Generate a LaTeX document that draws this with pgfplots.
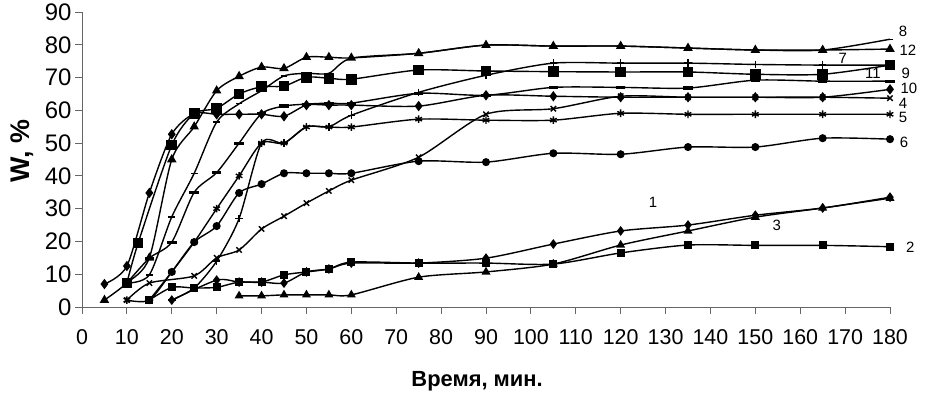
\documentclass[border=0pt]{standalone}
\usepackage{fontspec}
\setmainfont{Liberation Sans}
\usepackage{graphicx}
\usepackage{pgfplots}
\pgfplotsset{compat=1.18}
\begin{document}
\begin{tikzpicture}
\useasboundingbox (0,0) rectangle (951bp,399bp);
\begin{axis}[
 at={(82bp,92bp)}, anchor=south west,
 scale only axis, width=808bp, height=295bp,
 xmin=0, xmax=180, ymin=0, ymax=90,
 axis lines=left, axis line style={-, draw=black!60, line width=0.8bp},
 xtick={0,10,...,180}, ytick={0,10,...,90},
 tick align=outside, major tick length=7bp,
 tick style={draw=black!60, line width=0.8bp},
 /pgf/number format/assume math mode=true,
 xticklabel style={font=\fontsize{21.5}{21.5}\selectfont, yshift=-12bp},
 yticklabel style={font=\fontsize{24}{24}\selectfont},
 xlabel={Время, мин.}, ylabel={W, \%},
 xlabel style={font=\fontsize{22}{22}\selectfont\bfseries, at={(axis description cs:0.489,-0.25)}, anchor=center},
 ylabel style={font=\fontsize{27}{27}\selectfont\bfseries, at={(axis description cs:-0.0743,0.529)}, anchor=center},
 ser/.style={black, solid, line width=1.4bp, smooth, tension=0.45, mark size=3.3bp, mark options={solid, fill=black, draw=black}},
 clip=false,
]
% 1
\addplot[ser, mark=diamond*, mark size=3.8bp] coordinates {(20,2.1)(30,8.2)(35,7.6)(40,7.6)(45,7.3)(50,10.7)(55,11.6)(60,13.4)(75,13.4)(90,14.9)(105,19.2)(120,23.2)(135,25)(150,28)(165,30.2)(180,33.5)};
% 2
\addplot[ser, mark=square*] coordinates {(15,2.1)(20,6)(25,5.8)(30,6)(35,7.6)(40,7.6)(45,9.8)(50,10.7)(55,11.6)(60,13.7)(75,13.4)(90,13.4)(105,13.1)(120,16.5)(135,18.9)(150,18.8)(165,18.8)(180,18.4)};
% 3
\addplot[ser, mark=triangle*, mark size=3.8bp] coordinates {(35,3.4)(40,3.4)(45,3.7)(50,3.7)(55,3.7)(60,3.7)(75,9.1)(90,10.7)(105,13.1)(120,18.9)(135,23.2)(150,27.4)(165,30.2)(180,33.2)};
% 4
\addplot[ser, mark=x, mark size=3.8bp] coordinates {(10,2.1)(15,7.3)(25,9.5)(30,15)(35,17.4)(40,23.8)(45,27.7)(50,31.7)(55,35.4)(60,38.7)(75,45.7)(90,58.8)(105,60.5)(120,64.3)(135,64)(150,64)(165,64)(180,63.7)};
% 5
\addplot[ser, mark=asterisk, mark size=3.8bp] coordinates {(10,2.1)(15,2.1)(20,10.7)(25,19.8)(30,30)(35,40)(40,50)(45,50)(50,54.9)(55,54.9)(60,54.9)(75,57.3)(90,57)(105,57)(120,59.1)(135,58.8)(150,58.8)(165,58.8)(180,58.8)};
% 6
\addplot[ser, mark=*] coordinates {(15,2.1)(20,10.7)(25,19.8)(30,24.7)(35,34.8)(40,37.5)(45,40.8)(50,40.8)(55,40.8)(60,40.8)(75,44.5)(90,44.2)(105,46.9)(120,46.6)(135,48.8)(150,48.8)(165,51.5)(180,51.2)};
% 7
\addplot[ser, mark=+, mark size=3.8bp] coordinates {(20,2.1)(25,5.8)(30,14)(35,27)(40,50)(45,50)(50,55)(55,55)(60,58.5)(75,65.5)(90,70.7)(105,74.4)(120,74.4)(135,74.4)(150,74)(165,73.8)(180,73.8)};
% 8
\addplot[ser, mark=-, mark size=3.3bp] coordinates {(10,7.3)(15,9.8)(20,27.5)(25,40.8)(30,56.4)(35,62)(40,66)(45,70.5)(50,71.3)(55,71.3)(60,75.9)(75,77.4)(90,79.9)(105,79.6)(120,79.6)(135,79)(150,78.4)(165,78.4)(180,81.7)};
% 9
\addplot[ser, mark=-, mark size=4.8bp, mark options={line width=3.2bp}] coordinates {(10,7.3)(15,14.9)(20,19.8)(25,35)(30,41)(35,50)(40,59)(45,61.3)(50,61.9)(55,62.2)(60,62.2)(75,65.2)(90,64.6)(105,67)(120,67)(135,66.8)(150,69.2)(165,68.9)(180,68.9)};
% 10
\addplot[ser, mark=diamond*, mark size=4.1bp] coordinates {(5,7)(10,12.5)(15,34.8)(20,52.7)(25,59)(30,58.8)(35,58.8)(40,58.8)(45,58.2)(50,61.6)(55,61.6)(60,61.6)(75,61.3)(90,64.6)(105,64.3)(120,64)(135,64)(150,64)(165,64)(180,66.4)};
% 11
\addplot[ser, mark=square*, mark size=4.6bp] coordinates {(10,7.3)(12.5,19.5)(20,49.4)(25,59)(30,60.6)(35,65)(40,67.2)(45,67.4)(50,70.1)(55,69.8)(60,69.5)(75,72.3)(90,72)(105,71.8)(120,71.7)(135,71.7)(150,71)(165,71)(180,73.8)};
% 12
\addplot[ser, mark=triangle*, mark size=4.1bp] coordinates {(5,2.1)(10,7.3)(15,15)(20,45)(25,55)(30,66)(35,70.4)(40,73.2)(45,72.8)(50,76.2)(55,76.2)(60,76)(75,77.4)(90,79.9)(105,79.6)(120,79.6)(135,79)(150,78.4)(165,78.4)(180,78.7)};
\begin{scope}[every node/.style={font=\fontsize{15}{15}\selectfont, inner sep=0pt}]
\node at (axis cs:182.9,84.2) {8};
\node at (axis cs:184.0,78.4) {12};
\node at (axis cs:169.5,75.8) {7};
\node at (axis cs:176.2,71.3) {11};
\node at (axis cs:183.5,71.2) {9};
\node at (axis cs:184.2,66.7) {10};
\node at (axis cs:182.9,62.1) {4};
\node at (axis cs:182.9,57.7) {5};
\node at (axis cs:183.1,50.3) {6};
\node at (axis cs:127.2,32) {1};
\node at (axis cs:154.8,25) {3};
\node at (axis cs:184.5,18.3) {2};
\end{scope}
\end{axis}
\end{tikzpicture}
\end{document}
